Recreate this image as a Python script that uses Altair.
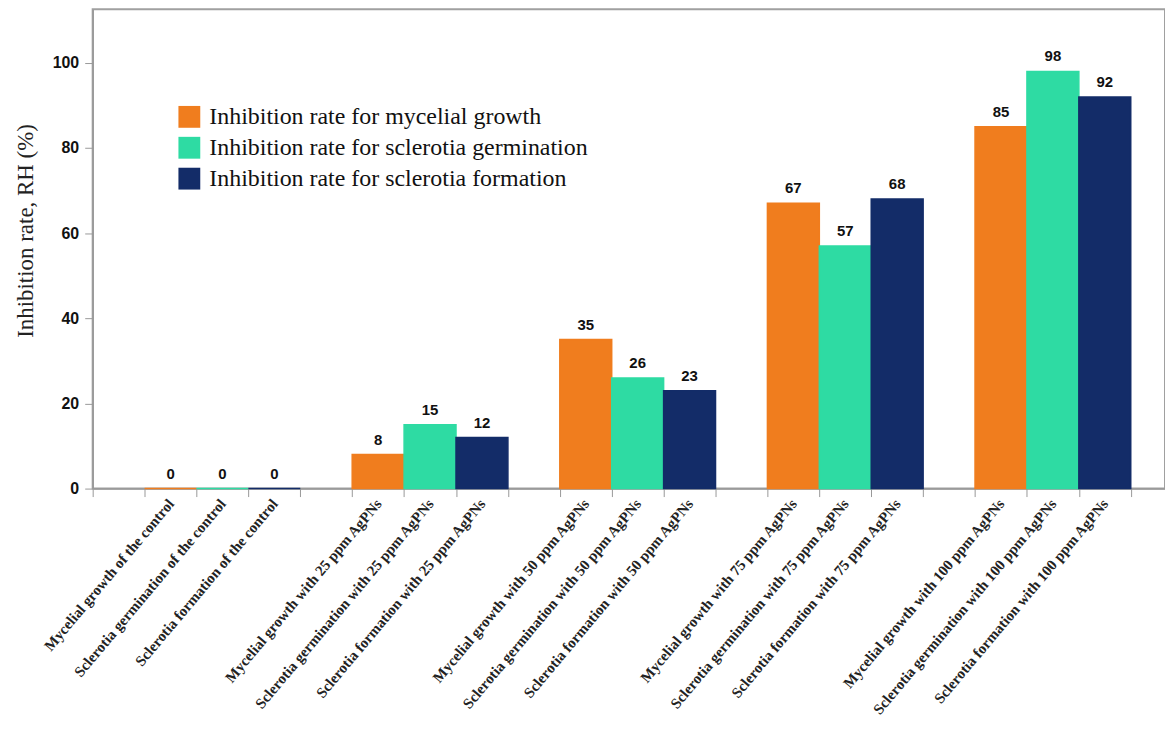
import altair as alt
import pandas as pd

series = [
    "Inhibition rate for mycelial growth",
    "Inhibition rate for sclerotia germination",
    "Inhibition rate for sclerotia formation",
]
colors = ["#F07D1E", "#2EDBA3", "#132C68"]
label_prefix = ["Mycelial growth", "Sclerotia germination", "Sclerotia formation"]
treatments = ["of the control", "with 25 ppm AgPNs", "with 50 ppm AgPNs",
              "with 75 ppm AgPNs", "with 100 ppm AgPNs"]
mycelial = [0, 8, 35, 67, 85]
germination = [0, 15, 26, 57, 98]
formation = [0, 12, 23, 68, 92]
y_ticks = [0, 20, 40, 60, 80, 100]

values = [mycelial, germination, formation]
rows = []
slots = []
for i, t in enumerate(treatments):
    slots.append(" " * (i + 1))  # blank spacer slot before each group
    for j, s in enumerate(series):
        lab = f"{label_prefix[j]} {t}"
        slots.append(lab)
        rows.append({"slot": lab, "series": s, "value": values[j][i]})
df = pd.DataFrame(rows)

x = alt.X(
    "slot:N",
    sort=slots,
    scale=alt.Scale(domain=slots, paddingInner=0, paddingOuter=0.33, align=0),
    axis=alt.Axis(
        title=None, labelAngle=-50, labelAlign="right", labelBaseline="middle",
        labelFont="Liberation Serif", labelFontWeight="bold", labelFontSize=15,
        labelColor="#222", labelLimit=0, labelOverlap=False, labelPadding=4,
        tickBand="extent", tickSize=8, tickColor="#999", domainColor="#999",
        domainWidth=1.5,
    ),
)
y = alt.Y(
    "value:Q",
    scale=alt.Scale(domain=[0, 112.6], nice=False),
    axis=alt.Axis(
        values=y_ticks, grid=False, title="Inhibition rate, RH (%)",
        titleFont="Liberation Serif", titleFontSize=23, titleFontWeight="normal",
        titleColor="#222", titleX=-55, titleY=222,
        labelFont="Liberation Sans", labelFontWeight="bold", labelFontSize=16,
        labelColor="#111", labelPadding=6,
        tickSize=8, tickColor="#999", domainColor="#999", domainWidth=1.5,
    ),
)

bars = alt.Chart(df).mark_bar(strokeWidth=1.5).encode(
    x=x,
    y=y,
    color=alt.Color(
        "series:N",
        scale=alt.Scale(domain=series, range=colors),
        sort=series,
        legend=alt.Legend(
            title=None, orient="none", legendX=85, legendY=96,
            symbolType="square", symbolSize=480, symbolStrokeWidth=0,
            labelFont="Liberation Serif", labelFontSize=24, labelColor="#111",
            rowPadding=7, labelOffset=8, labelLimit=0,
        ),
    ),
    stroke=alt.Stroke("series:N", scale=alt.Scale(domain=series, range=colors), legend=None),
)

text = alt.Chart(df).mark_text(
    baseline="alphabetic", dy=-10, font="Liberation Sans", fontWeight="bold",
    fontSize=15, color="#111",
).encode(x=x, y=y, text=alt.Text("value:Q"))

chart = alt.layer(bars, text).properties(
    width=1076, height=481,
    padding={"left": 93, "top": 8, "right": 0, "bottom": 245},
    autosize="none", background="white",
).configure_view(stroke="#A0A0A0", strokeWidth=2)

chart.save("out.html", embed_options={"renderer": "svg", "actions": False})
